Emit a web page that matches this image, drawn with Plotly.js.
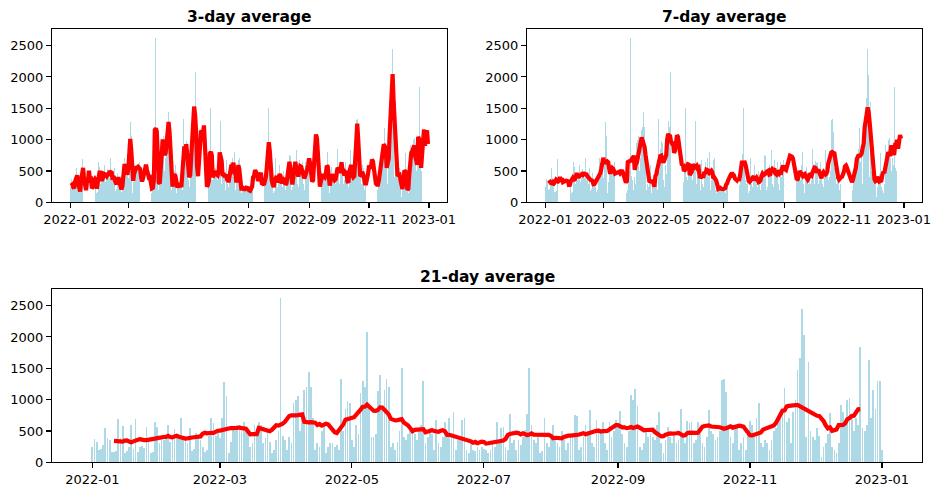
<!DOCTYPE html>
<html>
<head>
<meta charset="utf-8">
<script src="https://cdn.plot.ly/plotly-3.0.1.min.js"></script>
<style>
html,body{margin:0;padding:0;background:#fff;}
#chart{width:940px;height:494px;}
</style>
</head>
<body>
<div id="chart"></div>
<script>
// Daily values, 2022-01-01 .. 2023-01-01 (366 days)
const startDate = '2022-01-01';
const daily = [
  250, 370, 320, 190, 210, 270, 540, 390, 360, 170, 170, 180, 690, 380, 580, 150, 180, 250, 600, 220,
  690, 160, 250, 260, 230, 560, 330, 150, 170, 650, 560, 300, 380, 350, 420, 600, 330, 380, 530, 420,
  380, 700, 360, 420, 300, 540, 180, 220, 470, 380, 350, 250, 170, 190, 420, 700, 620, 420, 520, 380,
  700, 1280, 1050, 150, 330, 550, 500, 600, 550, 500, 650, 500, 450, 250, 300, 600, 550, 650, 600, 300,
  380, 500, 320, 150, 200, 350, 500, 2620, 420, 350, 200, 400, 300, 950, 1000, 1060, 500, 700, 1150, 1200,
  1440, 1200, 700, 200, 300, 250, 500, 600, 150, 250, 300, 300, 250, 280, 200, 1330, 500, 850, 980, 950,
  350, 250, 600, 450, 1100, 1300, 1200, 2085, 900, 400, 400, 450, 1130, 1390, 850, 1150, 1330, 1200, 250, 300,
  200, 330, 500, 1510, 400, 350, 450, 500, 550, 450, 350, 500, 600, 1290, 300, 400, 550, 450, 200, 680,
  300, 250, 400, 650, 450, 700, 400, 800, 200, 350, 400, 680, 700, 200, 150, 300, 200, 180, 250, 200,
  250, 220, 200, 150, 200, 300, 250, 650, 350, 540, 570, 250, 200, 770, 300, 350, 200, 350, 280, 400,
  520, 770, 1510, 600, 350, 300, 400, 150, 180, 700, 300, 250, 400, 600, 350, 300, 250, 500, 350, 200,
  300, 400, 450, 750, 740, 200, 250, 400, 600, 500, 840, 300, 250, 680, 550, 500, 650, 300, 200, 650,
  400, 500, 680, 600, 820, 450, 300, 250, 500, 1080, 1000, 1165, 900, 250, 200, 300, 500, 400, 450, 400,
  350, 600, 800, 300, 150, 350, 570, 400, 300, 450, 300, 350, 850, 450, 300, 660, 620, 640, 300, 350,
  640, 450, 300, 250, 400, 835, 500, 450, 350, 400, 500, 1314, 1330, 1117, 550, 400, 300, 600, 550, 200,
  300, 400, 200, 500, 660, 600, 400, 700, 950, 300, 250, 350, 300, 200, 350, 500, 550, 650, 750, 850,
  1180, 650, 700, 300, 800, 1000, 1470, 1660, 2442, 2032, 400, 1600, 500, 400, 350, 550, 420, 90, 250, 300,
  450, 780, 250, 200, 150, 300, 920, 800, 650, 1000, 1020, 700, 500, 700, 600, 1835, 550, 500, 600, 1633,
  700, 1150, 850, 1300, 1290, 200
];
const windows = [3, 7, 21];
const titles = ['3-day average', '7-day average', '21-day average'];
const yTicks = [0, 500, 1000, 1500, 2000, 2500];

// dates
const DAY = 86400000;
const t0 = Date.parse(startDate + 'T00:00:00Z');
const dates = daily.map((_, i) => new Date(t0 + i * DAY).toISOString().slice(0, 10));

// centered rolling mean (like pandas rolling(center=True))
function rolling(arr, w) {
  const h = (w - 1) / 2;
  return arr.map((_, i) => {
    if (i - h < 0 || i + h >= arr.length) return null;
    let s = 0;
    for (let j = i - h; j <= i + h; j++) s += arr[j];
    return s / w;
  });
}

const W = 940, H = 494;
const boxes = [
  {x0: 52, x1: 447.3, y0: 29.3, y1: 202.3},
  {x0: 527, x1: 922.3, y0: 29.3, y1: 202.3},
  {x0: 52, x1: 922.3, y0: 289.3, y1: 462.3}
];
const xr = [new Date(t0 - 18.65 * DAY).toISOString(), new Date(t0 + 383.65 * DAY).toISOString()];

const traces = [];
const layout = {
  width: W, height: H,
  margin: {l: 0, r: 0, t: 0, b: 0},
  paper_bgcolor: '#fff', plot_bgcolor: '#fff',
  showlegend: false,
  font: {family: 'DejaVu Sans', size: 13, color: '#000'},
  bargap: 0,
  annotations: []
};

windows.forEach((w, k) => {
  const sx = k === 0 ? '' : String(k + 1);
  traces.push({
    type: 'bar', x: dates, y: daily,
    width: 0.8 * DAY,
    marker: {color: '#add8e6', line: {width: 0}},
    xaxis: 'x' + sx, yaxis: 'y' + sx,
    hoverinfo: 'skip'
  });
  traces.push({
    type: 'scatter', mode: 'lines', x: dates, y: rolling(daily, w),
    line: {color: '#ff0000', width: 4.2},
    xaxis: 'x' + sx, yaxis: 'y' + sx,
    connectgaps: false
  });
  const b = boxes[k];
  const axCommon = {
    showline: true, mirror: true, linecolor: '#000', linewidth: 1.1,
    ticks: 'outside', ticklen: 5, tickwidth: 1.1, tickcolor: '#000',
    showgrid: false, zeroline: false,
    tickfont: {family: 'DejaVu Sans', size: 13, color: '#000'}
  };
  layout['xaxis' + sx] = Object.assign({}, axCommon, {
    type: 'date', range: xr,
    domain: [b.x0 / W, b.x1 / W],
    anchor: 'y' + sx,
    tick0: '2022-01-01', dtick: 'M2', tickformat: '%Y-%m'
  });
  layout['yaxis' + sx] = Object.assign({}, axCommon, {
    range: [0, 2760],
    domain: [1 - b.y1 / H, 1 - b.y0 / H],
    anchor: 'x' + sx,
    tickvals: yTicks, ticktext: yTicks.map(String)
  });
  layout.annotations.push({
    text: '<b>' + titles[k] + '</b>',
    xref: 'paper', yref: 'paper',
    x: ((b.x0 + b.x1) / 2) / W, y: 1 - (b.y0 - 12.5) / H,
    xanchor: 'center', yanchor: 'middle',
    showarrow: false,
    font: {family: 'DejaVu Sans', size: 15.5, color: '#000'}
  });
});

Plotly.newPlot('chart', traces, layout, {displayModeBar: false, staticPlot: true});
</script>
</body>
</html>
